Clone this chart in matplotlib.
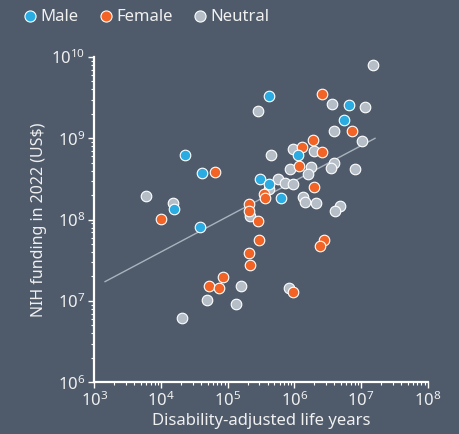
import matplotlib
matplotlib.use("Agg")
import matplotlib.pyplot as plt
from matplotlib.lines import Line2D

# ---- data ----
male_daly = [2.29e4, 4.19e4, 1.58e4, 3.88e4, 4.16e5, 6.7e6, 5.6e6, 1.12e6, 3.1e5, 4.19e5, 6.24e5]
male_fund = [6.3e8, 3.73e8, 1.36e8, 8.07e7, 3.34e9, 2.59e9, 1.67e9, 6.25e8, 3.18e8, 2.71e8, 1.84e8]

female_daly = [9.84e3, 6.5e4, 5.19e4, 7.41e4, 8.41e4, 2.56e6, 7.31e6, 1.89e6, 1.29e6, 2.58e6,
               1.18e6, 2.0e6, 3.5e5, 3.65e5, 2.08e5, 2.08e5, 2.88e5, 2.94e5, 2.08e5, 2.14e5,
               2.81e6, 2.42e6, 9.42e5]
female_fund = [1.03e8, 3.81e8, 1.54e7, 1.46e7, 1.97e7, 3.47e9, 1.24e9, 9.49e8, 7.73e8, 6.81e8,
               4.54e8, 2.55e8, 2.04e8, 1.82e8, 1.54e8, 1.27e8, 9.64e7, 5.68e7, 3.87e7, 2.77e7,
               5.6e7, 4.79e7, 1.3e7]

neutral_daly = [5.92e3, 1.54e4, 2.07e4, 4.94e4, 1.33e5, 1.6e5, 8.37e5, 1.49e7, 2.88e5, 3.62e6,
                1.13e7, 3.95e6, 1.02e7, 9.4e5, 1.94e6, 4.51e5, 3.88e6, 3.6e6, 8.11e6, 8.51e5,
                1.75e6, 1.63e6, 5.64e5, 7.28e5, 9.53e5, 4.24e5, 1.33e6, 1.43e6, 2.08e6, 4.83e6,
                4.02e6, 2.17e5]
neutral_fund = [1.95e8, 1.58e8, 6.24e6, 1.04e7, 9.27e6, 1.54e7, 1.46e7, 8.0e9, 2.19e9, 2.62e9,
                2.43e9, 1.22e9, 9.29e8, 7.36e8, 7.06e8, 6.32e8, 4.95e8, 4.3e8, 4.23e8, 4.18e8,
                4.48e8, 3.6e8, 3.15e8, 2.84e8, 2.77e8, 2.35e8, 1.89e8, 1.64e8, 1.6e8, 1.49e8,
                1.29e8, 1.11e8]

trend_x = [1.45e3, 1.62e7]
trend_y = [1.73e7, 1.0e9]

series_labels = ["Male", "Female", "Neutral"]
series_colors = ["#2aabe2", "#f26426", "#b5bdc7"]

x_label = "Disability-adjusted life years"
y_label = "NIH funding in 2022 (US$)"

# ---- style ----
BG = "#4f5b6b"
FG = "#f0f0f0"
plt.rcParams["font.family"] = ["Noto Sans", "DejaVu Sans"]

fig = plt.figure(figsize=(4.6, 4.34), dpi=100, facecolor=BG)
ax = fig.add_axes([0.205, 0.1191, 0.7248, 0.7496])
ax.set_facecolor(BG)

ax.plot(trend_x, trend_y, color="#a9b3be", lw=1.0, zorder=1)

groups = [(neutral_daly, neutral_fund, series_colors[2]),
          (female_daly, female_fund, series_colors[1]),
          (male_daly, male_fund, series_colors[0])]
for xs, ys, c in groups:
    ax.scatter(xs, ys, s=58, c=c, edgecolors="white", linewidths=0.8, zorder=3)

ax.set_xscale("log")
ax.set_yscale("log")
ax.set_xlim(1e3, 1e8)
ax.set_ylim(1e6, 1e10)

for s in ["top", "right"]:
    ax.spines[s].set_visible(False)
for s in ["left", "bottom"]:
    ax.spines[s].set_color("white")
    ax.spines[s].set_linewidth(1.6)

ax.tick_params(which="major", direction="out", length=4, width=1, colors="white",
               labelcolor=FG, labelsize=12, pad=2.5)
ax.tick_params(which="minor", direction="out", length=2.5, width=0.8, colors="white")

ax.set_xlabel(x_label, color=FG, fontsize=12, labelpad=2)
ax.set_ylabel(y_label, color=FG, fontsize=11.5, labelpad=3)

handles = [Line2D([], [], ls="none", marker="o", markersize=8, markerfacecolor=c,
                  markeredgecolor="white", markeredgewidth=0.8) for c in series_colors]
leg = fig.legend(handles, series_labels, loc="upper left", bbox_to_anchor=(0.018, 1.005),
                 ncol=3, frameon=False, fontsize=12, handletextpad=0.05,
                 columnspacing=1.0, handlelength=1.2, borderaxespad=0.3)
for t in leg.get_texts():
    t.set_color(FG)

fig.savefig("out.png", dpi=100, facecolor=BG)
